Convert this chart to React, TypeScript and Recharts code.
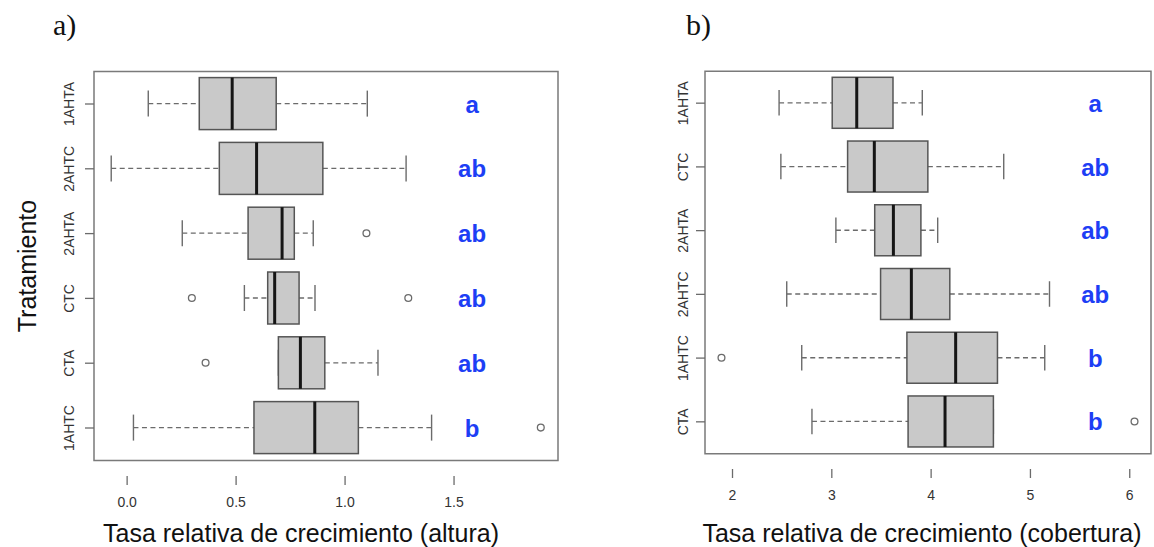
import { Bar, ComposedChart, ReferenceArea, XAxis, YAxis } from "recharts";

// panel a) altura
const TREAT_A = ["1AHTA", "2AHTC", "2AHTA", "CTC", "CTA", "1AHTC"];
const MIN_A = [0.097, -0.073, 0.253, 0.538, 0.694, 0.029];
const Q1_A = [0.331, 0.423, 0.555, 0.645, 0.694, 0.582];
const MED_A = [0.482, 0.594, 0.711, 0.677, 0.795, 0.861];
const Q3_A = [0.684, 0.898, 0.767, 0.789, 0.907, 1.061];
const MAX_A = [1.102, 1.28, 0.854, 0.862, 1.151, 1.397];
const OUT_A = [[], [], [1.098], [0.297, 1.29], [0.36], [1.898]];
const LETTERS_A = ["a", "ab", "ab", "ab", "ab", "b"];
const TICKS_A = [0, 0.5, 1.0, 1.5];

// panel b) cobertura
const TREAT_B = ["1AHTA", "CTC", "2AHTA", "2AHTC", "1AHTC", "CTA"];
const MIN_B = [2.469, 2.487, 3.041, 2.546, 2.697, 2.8];
const Q1_B = [3.004, 3.159, 3.432, 3.491, 3.756, 3.768];
const MED_B = [3.251, 3.428, 3.62, 3.801, 4.247, 4.14];
const Q3_B = [3.616, 3.967, 3.897, 4.188, 4.668, 4.627];
const MAX_B = [3.911, 4.731, 4.066, 5.192, 5.144, 4.627];
const OUT_B = [[], [], [], [], [1.889], [6.048]];
const LETTERS_B = ["a", "ab", "ab", "ab", "b", "b"];
const TICKS_B = [2, 3, 4, 5, 6];

type Row = {
  name: string;
  min: number;
  q1: number;
  med: number;
  q3: number;
  max: number;
  out: number[];
  letter: string;
  range: [number, number];
};

function makeRows(
  names: string[],
  mins: number[],
  q1s: number[],
  meds: number[],
  q3s: number[],
  maxs: number[],
  outs: number[][],
  letters: string[]
): Row[] {
  return names.map((name, i) => ({
    name,
    min: mins[i],
    q1: q1s[i],
    med: meds[i],
    q3: q3s[i],
    max: maxs[i],
    out: outs[i],
    letter: letters[i],
    range: [mins[i], maxs[i]],
  }));
}

const rowsA = makeRows(TREAT_A, MIN_A, Q1_A, MED_A, Q3_A, MAX_A, OUT_A, LETTERS_A);
const rowsB = makeRows(TREAT_B, MIN_B, Q1_B, MED_B, Q3_B, MAX_B, OUT_B, LETTERS_B);

const FONT = '"Liberation Sans", Arial, Helvetica, sans-serif';
const GREY = "#6b6b6b";

// the bar spans min..max whisker range; everything else is placed on the same linear scale
function BoxShape(props: any) {
  const { x, y, width, height, payload, letterAt } = props;
  const d: Row = payload;
  const k = width / (d.max - d.min);
  const px = (v: number) => x + (v - d.min) * k;
  const cy = y + height / 2;
  const cap = height / 4;
  return (
    <g>
      <line x1={px(d.min)} x2={px(d.q1)} y1={cy} y2={cy} stroke={GREY} strokeWidth={1.3} strokeDasharray="5 3.5" />
      <line x1={px(d.q3)} x2={px(d.max)} y1={cy} y2={cy} stroke={GREY} strokeWidth={1.3} strokeDasharray="5 3.5" />
      <line x1={px(d.min)} x2={px(d.min)} y1={cy - cap} y2={cy + cap} stroke={GREY} strokeWidth={1.4} />
      <line x1={px(d.max)} x2={px(d.max)} y1={cy - cap} y2={cy + cap} stroke={GREY} strokeWidth={1.4} />
      <rect x={px(d.q1)} y={y} width={px(d.q3) - px(d.q1)} height={height} fill="#c9c9c9" stroke="#555" strokeWidth={1.5} />
      <line x1={px(d.med)} x2={px(d.med)} y1={y} y2={y + height} stroke="#151515" strokeWidth={3} />
      {d.out.map((o) => (
        <circle key={o} cx={px(o)} cy={cy} r={3.4} fill="none" stroke={GREY} strokeWidth={1.3} />
      ))}
      <text
        x={px(letterAt)}
        y={cy + 9}
        textAnchor="middle"
        fontFamily={FONT}
        fontWeight="bold"
        fontSize={24}
        fill="#1d3ef5"
      >
        {d.letter}
      </text>
    </g>
  );
}

function CatTick(props: any) {
  const { x, y, payload } = props;
  return (
    <text
      x={x}
      y={y}
      transform={`rotate(-90, ${x}, ${y})`}
      textAnchor="middle"
      dy="0.35em"
      fontSize={14}
      fill="#333"
      fontFamily={FONT}
    >
      {payload.value}
    </text>
  );
}

type PanelProps = {
  rows: Row[];
  domain: [number, number];
  ticks: number[];
  tickFmt: (v: number) => string;
  title: string;
  yTitle?: string;
  letterAt: number;
  width: number;
  margin: { top: number; right: number; bottom: number; left: number };
  yWidth: number;
  xHeight: number;
  yTickMargin: number;
  pad: number;
  barSize: number;
  titleDx: number;
};

function Panel(p: PanelProps) {
  return (
    <ComposedChart width={p.width} height={547} data={p.rows} layout="vertical" margin={p.margin}>
      <XAxis
        type="number"
        domain={p.domain}
        allowDataOverflow
        ticks={p.ticks}
        tickFormatter={p.tickFmt}
        axisLine={false}
        tickSize={9}
        tickMargin={12}
        tickLine={{ stroke: GREY, strokeWidth: 1.3 }}
        tick={{ fontSize: 14, fill: "#333", fontFamily: FONT }}
        height={p.xHeight}
        label={{
          value: p.title,
          position: "insideBottom",
          offset: 5,
          dx: p.titleDx,
          style: { fontSize: 25, fill: "#111", fontFamily: FONT },
        }}
      />
      <YAxis
        type="category"
        dataKey="name"
        width={p.yWidth}
        padding={{ top: p.pad, bottom: p.pad }}
        axisLine={false}
        tickSize={9}
        tickMargin={p.yTickMargin}
        tickLine={{ stroke: GREY, strokeWidth: 1.3 }}
        tick={<CatTick />}
        interval={0}
        label={
          p.yTitle
            ? {
                value: p.yTitle,
                angle: -90,
                position: "insideLeft",
                offset: 17,
                style: { textAnchor: "middle", fontSize: 25, fill: "#111", fontFamily: FONT },
              }
            : undefined
        }
      />
      <ReferenceArea
        x1={p.domain[0]}
        x2={p.domain[1]}
        ifOverflow="visible"
        fill="none"
        stroke="#7a7a7a"
        strokeWidth={1.5}
      />
      <Bar
        dataKey="range"
        barSize={p.barSize}
        isAnimationActive={false}
        shape={(sp: any) => <BoxShape {...sp} letterAt={p.letterAt} />}
      />
    </ComposedChart>
  );
}

export default function App() {
  return (
    <div style={{ position: "fixed", left: 0, top: 0, width: 1154, height: 547, background: "#fff" }}>
      <div
        style={{
          position: "absolute",
          left: 53,
          top: 9,
          fontFamily: '"Liberation Serif", "Times New Roman", serif',
          fontSize: 30,
          lineHeight: "32px",
          color: "#111",
        }}
      >
        a)
      </div>
      <div
        style={{
          position: "absolute",
          left: 686,
          top: 9,
          fontFamily: '"Liberation Serif", "Times New Roman", serif',
          fontSize: 30,
          lineHeight: "32px",
          color: "#111",
        }}
      >
        b)
      </div>
      <div style={{ position: "absolute", left: 0, top: 0 }}>
        <Panel
          rows={rowsA}
          domain={[-0.152, 1.977]}
          ticks={TICKS_A}
          tickFmt={(v) => v.toFixed(1)}
          title="Tasa relativa de crecimiento (altura)"
          yTitle="Tratamiento"
          letterAt={1.583}
          width={580}
          margin={{ top: 56, right: 22, bottom: 0, left: 10 }}
          yWidth={84}
          xHeight={71}
          yTickMargin={16}
          pad={15.6}
          barSize={52}
          titleDx={-25}
        />
      </div>
      <div style={{ position: "absolute", left: 600, top: 0 }}>
        <Panel
          rows={rowsB}
          domain={[1.723, 6.214]}
          ticks={TICKS_B}
          tickFmt={(v) => String(v)}
          title="Tasa relativa de crecimiento (cobertura)"
          letterAt={5.653}
          width={554}
          margin={{ top: 56, right: 3, bottom: 0, left: 10 }}
          yWidth={95}
          xHeight={78}
          yTickMargin={13}
          pad={15.3}
          barSize={51}
          titleDx={-6}
        />
      </div>
    </div>
  );
}
